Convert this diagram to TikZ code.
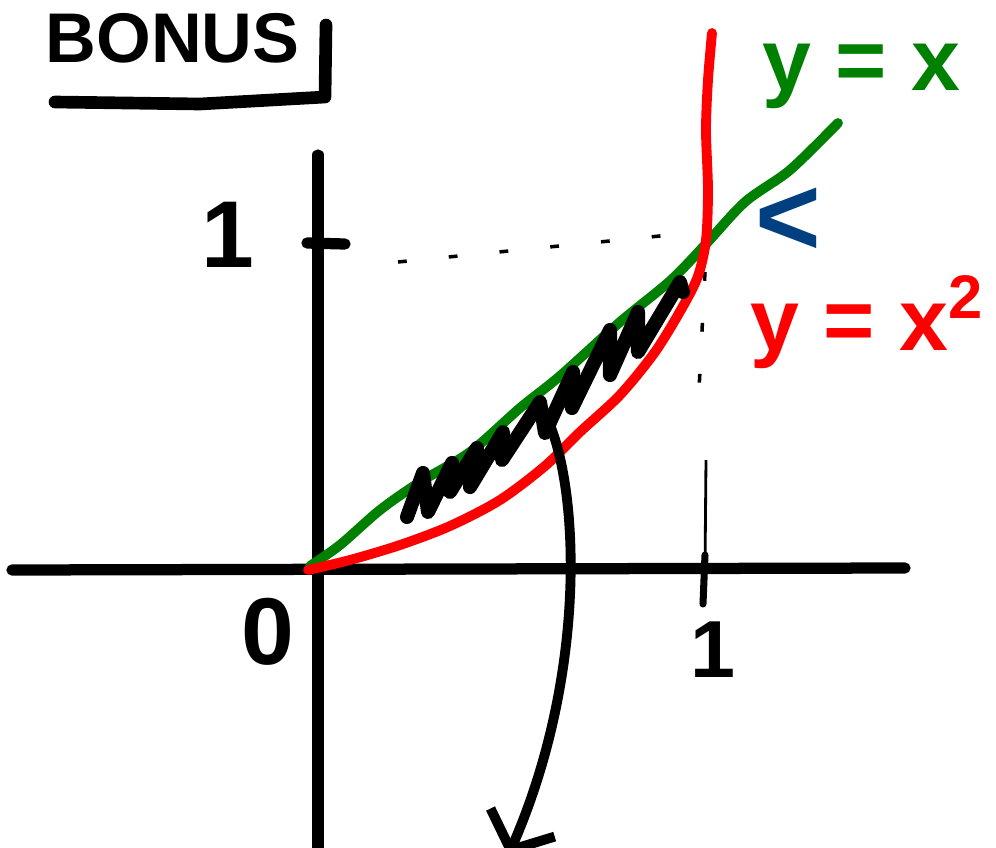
\documentclass[tikz,border=0pt]{standalone}
\usepackage{fontspec}
\setmainfont{Liberation Sans}
\usepackage{xcolor}
\usetikzlibrary{arrows.meta,positioning,calc}
\definecolor{penGreen}{RGB}{0,128,0}
\definecolor{penRed}{RGB}{255,0,0}
\definecolor{penBlue}{RGB}{0,64,128}
\tikzset{
  axis/.style={line width=3.2pt, line cap=round, line join=round},
  fnlin/.style={penGreen, line width=2.8pt, line cap=round, line join=round},
  fnsq/.style={penRed, line width=2.8pt, line cap=round, line join=round},
  guide/.style={line width=1pt, dash pattern=on 2.5pt off 12pt},
  hatch/.style={line width=4pt, line join=round, line cap=round},
  pointer/.style={-{Straight Barb[length=3mm, width=7mm]}, line width=2.8pt},
  lbl/.style={font=\bfseries\fontsize{27}{30}\selectfont, inner sep=0pt},
}

\begin{document}
\begin{tikzpicture}[x=0.01cm, y=-0.01cm]
  \useasboundingbox (0,0) rectangle (996,848);
  \node[lbl, font=\bfseries\fontsize{20}{24}\selectfont, anchor=base west] (bonus) at (45,62) {BONUS};
  \draw[axis, line width=3.6pt] (55,102) -- (200,104) -- (325,97) -- (326,25);
  % axes and ticks
  \coordinate (o) at (318,570);
  \draw[axis] (12,570) -- (905,568);
  \draw[axis] (318,155) -- (318,860);
  \draw[axis] (307,243) -- (345,244);
  \draw[axis, line width=2pt] (705,555) -- (703,604);
  \node[lbl] (oneY) at (228,235) {1};
  \node[lbl] (zero) at (268,632) {0};
  \node[lbl, font=\bfseries\fontsize{23}{26}\selectfont] (oneX) at (713,650) {1};
  % guides to (1,1)
  \draw[guide] (398,262) -- (690,233);
  \draw[guide] (705,272) -- (699,390);
  \draw[line width=0.8pt] (706,460) -- (705,570);
  % the two curves
  \draw[fnlin] plot[smooth, tension=0.5] coordinates {(310,566) (340,545) (380,510) (420,482)
    (470,452) (520,408) (560,376) (620,322) (670,281) (705,245) (745,202) (790,170) (838,123)};
  \draw[fnsq] plot[smooth, tension=0.5] coordinates {(308,570) (350,560) (400,545) (450,526)
    (500,500) (545,466) (580,432) (620,395) (655,352) (682,308) (698,276) (706,240)
    (708,190) (706,130) (708,80) (712,33)};
  \node[lbl, text=penGreen, font=\bfseries\fontsize{25}{30}\selectfont, anchor=base west] (lblX) at (762,90) {y = x};
  \node[lbl, text=penRed, font=\bfseries\fontsize{25}{30}\selectfont, anchor=base west] (lblSq) at (750,350) {y = x\textsuperscript{2}};
  \node[lbl, text=penBlue, font=\bfseries\fontsize{32}{36}\selectfont] (lt) at (788,222) {<};
  % hatched region
  \draw[hatch] (407,517) -- (423,473) -- (428,512) -- (452,463) -- (450,492) -- (477,448)
    -- (470,487) -- (503,432) -- (502,460) -- (540,402) -- (545,433) -- (573,372)
    -- (572,408) -- (610,330) -- (610,375) -- (638,312) -- (638,352) -- (680,282) -- (683,292);
  \coordinate (src) at (550,425);
  \coordinate (dst) at (508,856);
  \draw[pointer] (src) .. controls (580,500) and (585,680) .. (dst);
\end{tikzpicture}
\end{document}
